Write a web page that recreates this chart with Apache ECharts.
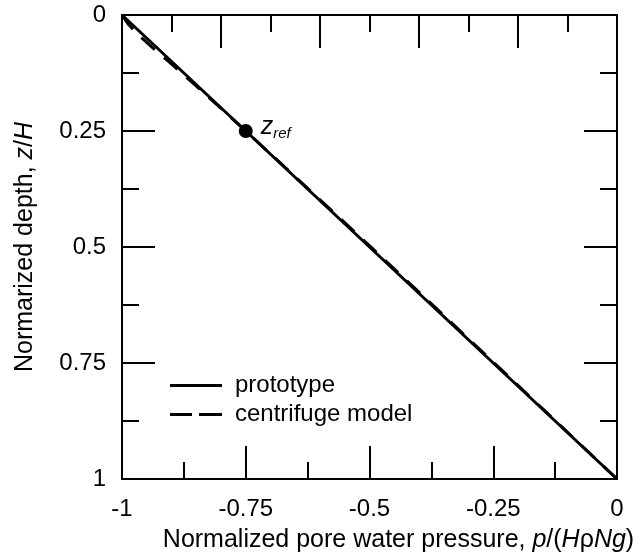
<!DOCTYPE html>
<html>
<head>
<meta charset="utf-8">
<script src="https://cdn.jsdelivr.net/npm/echarts@6/dist/echarts.min.js"></script>
<style>
  html, body { margin: 0; padding: 0; background: #fff; }
  #main { width: 640px; height: 558px; }
</style>
</head>
<body>
<div id="main"></div>
<script>
// data
var protoDepth = [0, 0.25, 0.5, 0.75, 1];
var protoPressure = [-1, -0.75, -0.5, -0.25, 0];

var modelDepth = [0, 0.02, 0.04, 0.07, 0.1, 0.15, 0.25, 0.5, 0.75, 1];
var modelPressure = [-1, -0.987, -0.97, -0.939, -0.906, -0.853, -0.75, -0.497, -0.248, 0];

var refPoint = [-0.75, 0.25];

var xTickLabels = ['-1', '-0.75', '-0.5', '-0.25', '0'];
var yTickLabels = ['0', '0.25', '0.5', '0.75', '1'];

var font = 'Liberation Sans, Arial, Helvetica, sans-serif';

function pairs(xs, ys) {
  var out = [];
  for (var i = 0; i < xs.length; i++) out.push([xs[i], ys[i]]);
  return out;
}

var myChart = echarts.init(document.getElementById('main'));

var tickStyle = { color: '#000', width: 2 };

function baseAxis(extra) {
  var a = {
    type: 'value',
    axisLine: { show: true, onZero: false, lineStyle: { color: '#000', width: 2 } },
    axisTick: { show: true, inside: true, length: 33, lineStyle: tickStyle },
    minorTick: { show: true, splitNumber: 2, length: 17, lineStyle: tickStyle },
    splitLine: { show: false },
    minorSplitLine: { show: false }
  };
  for (var k in extra) a[k] = extra[k];
  return a;
}

var option = {
  animation: false,
  backgroundColor: '#fff',
  textStyle: { fontFamily: font, color: '#000' },
  grid: { left: 122, right: 23, top: 15, bottom: 78 },
  legend: {
    orient: 'vertical',
    left: 165,
    top: 368,
    itemWidth: 52,
    itemHeight: 3,
    itemGap: 4,
    textStyle: { fontFamily: font, fontSize: 24, color: '#000', lineHeight: 25, padding: [0, 0, 0, 8] },
    data: [
      { name: 'prototype', icon: 'path://M0,0H52V3H0Z' },
      { name: 'centrifuge model', icon: 'path://M0,0H22V3H0ZM29,0H52V3H29Z' }
    ]
  },
  xAxis: [
    baseAxis({
      position: 'bottom',
      min: -1, max: 0, interval: 0.25,
      axisLabel: {
        color: '#000', fontSize: 24, fontFamily: font, margin: 18,
        formatter: function (v) { return xTickLabels[Math.round((v + 1) * 4)]; }
      },
      name: 'Normalized pore water pressure, {i|p}/({i|H}ρ{i|Ng})',
      nameLocation: 'middle',
      nameGap: 49,
      nameTextStyle: {
        color: '#000', fontSize: 25, fontFamily: font, padding: [0, 0, 0, 58],
        rich: { i: { fontStyle: 'italic', fontSize: 25, fontFamily: font, color: '#000' } }
      }
    }),
    // top axis: ticks every 0.1, long every 0.2, no labels
    baseAxis({
      position: 'top',
      min: -1, max: 0, interval: 0.2,
      axisLabel: { show: false }
    })
  ],
  yAxis: [
    baseAxis({
      position: 'left',
      inverse: true,
      min: 0, max: 1, interval: 0.25,
      axisLabel: {
        color: '#000', fontSize: 24, fontFamily: font, margin: 16,
        formatter: function (v) { return yTickLabels[Math.round(v * 4)]; }
      },
      name: 'Normarized depth, {i|z}/{i|H}',
      nameLocation: 'middle',
      nameRotate: 90,
      nameGap: 84,
      nameTextStyle: {
        color: '#000', fontSize: 25, fontFamily: font,
        rich: { i: { fontStyle: 'italic', fontSize: 25, fontFamily: font, color: '#000' } }
      }
    }),
    baseAxis({
      position: 'right',
      inverse: true,
      min: 0, max: 1, interval: 0.25,
      axisLabel: { show: false }
    })
  ],
  series: [
    {
      name: 'prototype',
      type: 'line',
      xAxisIndex: 0, yAxisIndex: 0,
      data: pairs(protoPressure, protoDepth),
      showSymbol: false,
      symbol: 'none',
      lineStyle: { color: '#000', width: 3, type: 'solid' },
      itemStyle: { color: '#000' },
      z: 3
    },
    {
      name: 'centrifuge model',
      type: 'line',
      xAxisIndex: 0, yAxisIndex: 0,
      data: pairs(modelPressure, modelDepth),
      showSymbol: false,
      symbol: 'none',
      lineStyle: { color: '#000', width: 3, type: [18, 12] },
      itemStyle: { color: '#000' },
      z: 2
    },
    {
      name: 'zref',
      type: 'scatter',
      xAxisIndex: 0, yAxisIndex: 0,
      data: [refPoint],
      symbol: 'circle',
      symbolSize: 14,
      itemStyle: { color: '#000', opacity: 1 },
      z: 4,
      label: {
        show: true,
        position: 'right',
        distance: 8,
        offset: [0, -4],
        formatter: '{z|z}{s|ref}',
        rich: {
          z: { fontStyle: 'italic', fontSize: 25, lineHeight: 28, fontFamily: font, color: '#000' },
          s: { fontStyle: 'italic', fontSize: 15, lineHeight: 15, verticalAlign: 'bottom', fontFamily: font, color: '#000' }
        }
      }
    }
  ]
};

myChart.setOption(option);
</script>
</body>
</html>
